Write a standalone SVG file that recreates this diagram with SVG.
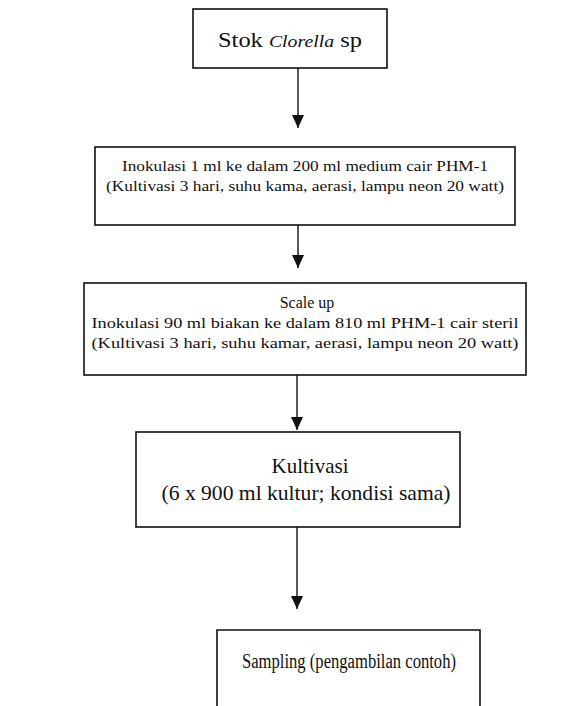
<svg xmlns="http://www.w3.org/2000/svg" width="587" height="706" viewBox="0 0 587 706">
<style>
.box{fill:#fff;stroke:#111;stroke-width:1.6}
.t{font-family:"Liberation Serif",serif;fill:#111;text-anchor:middle}
.c{stroke:#111;stroke-width:1.4;fill:none}
</style>
<defs>
<marker id="ah" viewBox="0 0 13 12" refX="13" refY="6" markerWidth="13" markerHeight="12" markerUnits="userSpaceOnUse" orient="auto">
<path d="M0,0 L13,6 L0,12 Z" fill="#111"/>
</marker>
</defs>
<rect width="587" height="706" fill="#fff"/>
<g id="connectors">
<line class="c" x1="298" y1="68" x2="298" y2="128" marker-end="url(#ah)"/>
<line class="c" x1="298" y1="225" x2="298" y2="268" marker-end="url(#ah)"/>
<line class="c" x1="297" y1="375" x2="297" y2="430" marker-end="url(#ah)"/>
<line class="c" x1="297" y1="527" x2="297" y2="609" marker-end="url(#ah)"/>
</g>
<g id="n1">
<rect class="box" x="193" y="9" width="194" height="59"/>
<text class="t" x="290" y="47" font-size="21" textLength="144" lengthAdjust="spacingAndGlyphs">Stok <tspan font-style="italic" font-size="17">Clorella</tspan> sp</text>
</g>
<g id="n2">
<rect class="box" x="95" y="147" width="420" height="78"/>
<text class="t" x="305" y="171" font-size="15.5" textLength="366" lengthAdjust="spacingAndGlyphs">Inokulasi 1 ml ke dalam 200 ml medium cair PHM-1</text>
<text class="t" x="305" y="191" font-size="15.5" textLength="398" lengthAdjust="spacingAndGlyphs">(Kultivasi 3 hari, suhu kama, aerasi, lampu neon 20 watt)</text>
</g>
<g id="n3">
<rect class="box" x="84" y="283" width="442" height="92"/>
<text class="t" x="307" y="308" font-size="16">Scale up</text>
<text class="t" x="305" y="328" font-size="15.5" textLength="427" lengthAdjust="spacingAndGlyphs">Inokulasi 90 ml biakan ke dalam 810 ml PHM-1 cair steril</text>
<text class="t" x="305" y="348" font-size="15.5" textLength="427" lengthAdjust="spacingAndGlyphs">(Kultivasi 3 hari, suhu kamar, aerasi, lampu neon 20 watt)</text>
</g>
<g id="n4">
<rect class="box" x="136" y="432" width="324" height="95"/>
<text class="t" x="310" y="473" font-size="21">Kultivasi</text>
<text class="t" x="306" y="500" font-size="21" textLength="289" lengthAdjust="spacingAndGlyphs">(6 x 900 ml kultur; kondisi sama)</text>
</g>
<g id="n5">
<path class="box" d="M217,712 L217,630 L480,630 L480,712"/>
<text class="t" x="349" y="668" font-size="20" textLength="214" lengthAdjust="spacingAndGlyphs">Sampling (pengambilan contoh)</text>
</g>
</svg>
